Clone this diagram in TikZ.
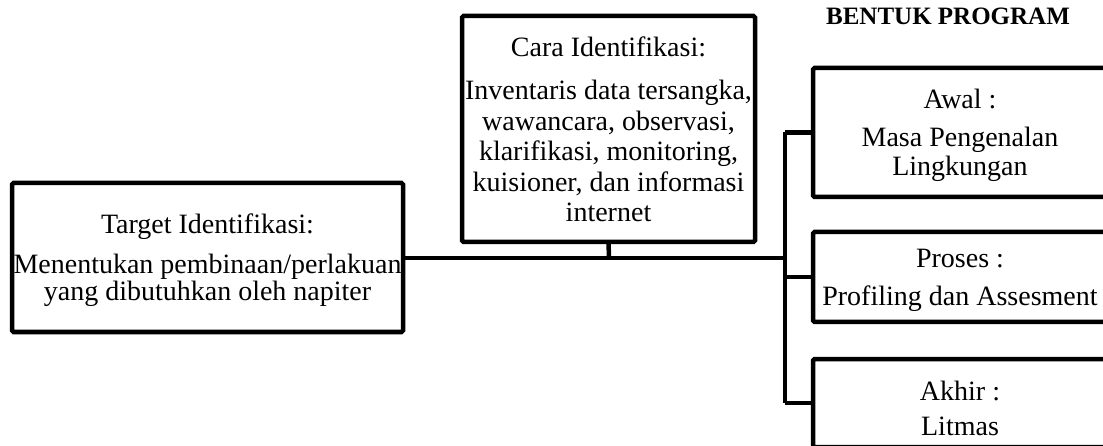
\documentclass[tikz,border=0pt]{standalone}
\usepackage{fontspec}
\setmainfont{Liberation Serif}
\begin{document}
\begin{tikzpicture}[x=1pt,y=-1pt,
  box/.style={draw, line width=4.5pt, rounded corners=1.5pt, inner sep=0pt, outer sep=0pt},
  txt/.style={font=\fontsize{28}{30}\selectfont, inner sep=0pt, anchor=base},
  ttl/.style={font=\fontsize{25}{28}\selectfont\bfseries, inner sep=0pt, anchor=base},
  conn/.style={line width=4.5pt}]
\useasboundingbox (0,0) rectangle (1103,446);
\clip (0,0) rectangle (1103,446);
% boxes
\node[box, minimum width=391pt, minimum height=149pt] (target) at (207.5,257.5) {};
\node[box, minimum width=293pt, minimum height=226pt] (cara) at (608.5,129) {};
\node[box, minimum width=294pt, minimum height=129pt] (awal) at (960,132.5) {};
\node[box, minimum width=294pt, minimum height=90pt] (proses) at (960,277) {};
\node[box, minimum width=294pt, minimum height=88pt] (akhir) at (960,403) {};
% title
\node[ttl] (title) at (948,25) {BENTUK PROGRAM};
% texts
\node[txt] (t1) at (207.5,234) {Target Identifikasi:};
\node[txt] (t2) at (207.5,274) {Menentukan pembinaan/perlakuan};
\node[txt] (t3) at (207.5,301) {yang dibutuhkan oleh napiter};
\node[txt] (c1) at (608.5,57) {Cara Identifikasi:};
\node[txt] (c2) at (608.5,100) {Inventaris data tersangka,};
\node[txt] (c3) at (608.5,130.5) {wawancara, observasi,};
\node[txt] (c4) at (608.5,161) {klarifikasi, monitoring,};
\node[txt] (c5) at (608.5,191.5) {kuisioner, dan informasi};
\node[txt] (c6) at (608.5,222) {internet};
\node[txt] (a1) at (960,109) {Awal :};
\node[txt] (a2) at (960,147) {Masa Pengenalan};
\node[txt] (a3) at (960,176) {Lingkungan};
\node[txt] (p1) at (960,268) {Proses :};
\node[txt] (p2) at (960,306) {Profiling dan Assesment};
\node[txt] (k1) at (960,400) {Akhir :};
\node[txt] (k2) at (960,435) {Litmas};
% connectors
\coordinate (junc) at (609,258);
\coordinate (bus) at (785,258);
\coordinate (bustop) at (785,132.5);
\coordinate (busbot) at (785,403);
\draw[conn] (target.east |- junc) -- (bus);
\draw[conn] (cara.south) -- (junc);
\draw[conn] (bustop) -- (busbot);
\draw[conn] (bustop) -- (awal.west);
\draw[conn] (bus |- proses.west) -- (proses.west);
\draw[conn] (busbot) -- (akhir.west);
\end{tikzpicture}
\end{document}
